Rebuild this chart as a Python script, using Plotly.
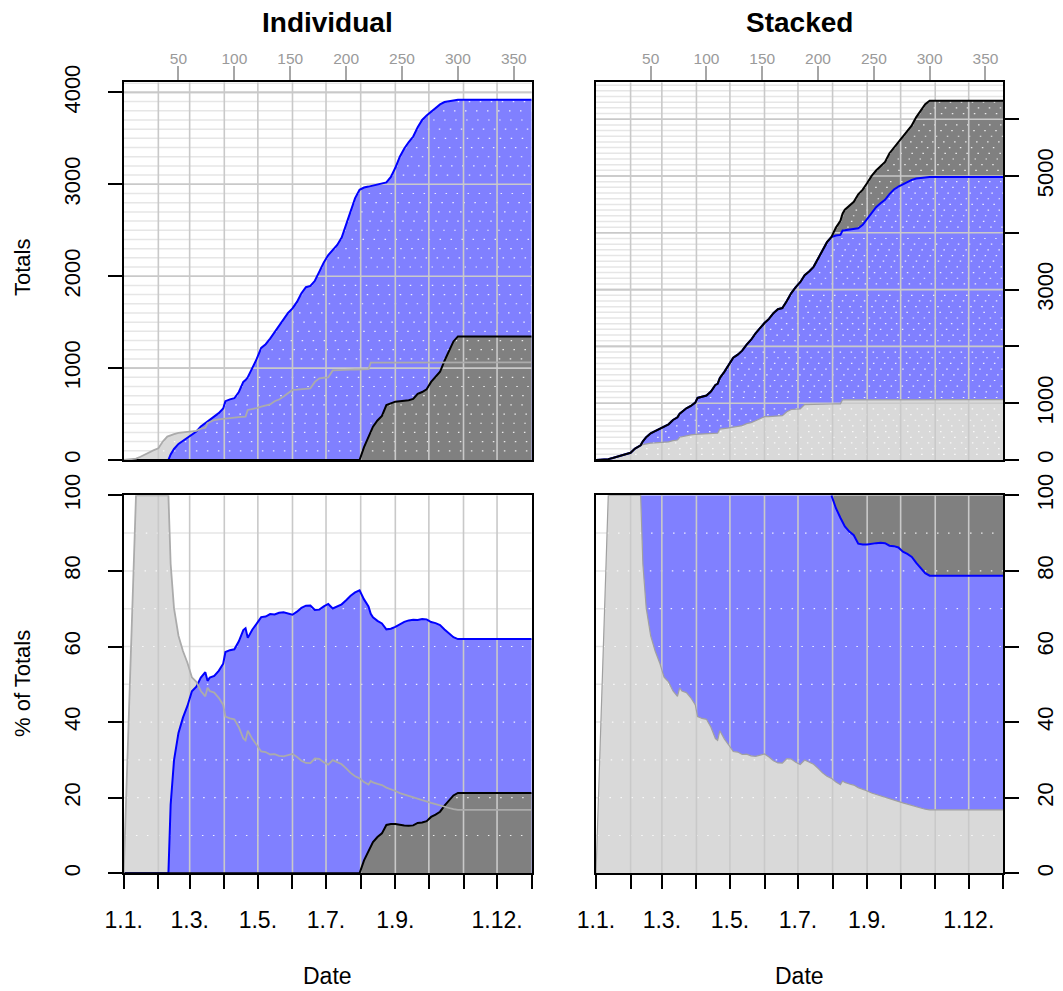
import numpy as np
import plotly.graph_objects as go

# ---- data: cumulative totals per day of year ----
day = [1, 12, 16, 20, 24, 28, 32, 36, 40, 41,
       43, 46, 50, 54, 58, 62, 66, 70, 74, 76,
       78, 82, 86, 90, 92, 96, 100, 104, 108, 110,
       112, 116, 120, 124, 128, 132, 136, 140, 144, 148,
       152, 156, 160, 164, 168, 172, 176, 180, 184, 188,
       192, 196, 200, 204, 208, 212, 216, 220, 222, 224,
       228, 232, 236, 240, 244, 248, 252, 256, 260, 264,
       268, 272, 276, 280, 284, 288, 292, 296, 300, 366]

grey_total = [0, 15, 35, 60, 90, 108, 127, 200, 255, 260,
              270, 282, 296, 300, 302, 307, 318, 340, 352, 400,
              410, 435, 442, 450, 453, 458, 462, 466, 471, 472,
              545, 552, 565, 580, 595, 605, 640, 658, 690, 725,
              762, 765, 770, 775, 780, 850, 889, 895, 900, 975,
              979, 981, 983, 984, 985, 986, 987, 988, 1060, 1060,
              1060, 1061, 1061, 1061, 1062, 1062, 1062, 1062, 1062, 1062,
              1062, 1062, 1062, 1062, 1062, 1062, 1062, 1062, 1062, 1062]

blue_total = [0, 0, 0, 0, 0, 0, 0, 0, 0, 0,
              60, 120, 175, 210, 240, 285, 310, 365, 400, 415,
              440, 475, 510, 560, 640, 660, 672, 740, 850, 870,
              900, 1000, 1100, 1220, 1260, 1320, 1390, 1460, 1540, 1600,
              1650, 1720, 1815, 1880, 1895, 1950, 2050, 2150, 2230, 2280,
              2340, 2420, 2560, 2720, 2850, 2940, 2965, 2975, 2980, 2985,
              2995, 3005, 3020, 3080, 3180, 3300, 3390, 3460, 3520, 3620,
              3700, 3750, 3790, 3840, 3870, 3895, 3905, 3912, 3920, 3920]

dark_total = [0, 0, 0, 0, 0, 0, 0, 0, 0, 0,
              0, 0, 0, 0, 0, 0, 0, 0, 0, 0,
              0, 0, 0, 0, 0, 0, 0, 0, 0, 0,
              0, 0, 0, 0, 0, 0, 0, 0, 0, 0,
              0, 0, 0, 0, 0, 0, 0, 0, 0, 0,
              0, 0, 0, 0, 0, 0, 140, 250, 300, 363,
              430, 480, 598, 620, 635, 640, 645, 650, 665, 720,
              740, 770, 850, 900, 960, 1080, 1180, 1290, 1345, 1345]

# ---- axis ticks ----
month_start = [1, 32, 60, 91, 121, 152, 182, 213, 244, 274, 305, 335, 366]
month_label = ["1.1.", "", "1.3.", "", "1.5.", "", "1.7.", "", "1.9.", "", "", "1.12.", ""]
day_ticks = [50, 100, 150, 200, 250, 300, 350]
ind_ticks = [0, 1000, 2000, 3000, 4000]
stk_ticks = [0, 1000, 2000, 3000, 4000, 5000, 6000]
stk_labels = ["0", "1000", "", "3000", "", "5000", ""]
pct_ticks = [0, 20, 40, 60, 80, 100]

# ---- derived series ----
x = np.array(day, dtype=float)
g = np.array(grey_total, dtype=float)
b = np.array(blue_total, dtype=float)
d = np.array(dark_total, dtype=float)
tot = g + b + d
safe = np.where(tot > 0, tot, 1.0)
g_pct = np.where(tot > 0, 100 * g / safe, 0.0)
b_pct = np.where(tot > 0, 100 * b / safe, 0.0)
d_pct = np.where(tot > 0, 100 * d / safe, 0.0)
gb_cum = g + b
gbd_cum = tot
gb_cum_pct = g_pct + b_pct
all_pct = np.where(tot > 0, 100.0, 0.0)

LIGHT_FILL = "#d9d9d9"
LIGHT_LINE = "#ababab"
BLUE_FILL = "#8080ff"
BLUE_LINE = "#0000ff"
DARK_FILL = "#808080"
DARK_LINE = "#000000"
GRID_MAJOR = "#c9c9c9"
GRID_MINOR = "#e6e6e6"
FONT = "Liberation Sans, Arial, Helvetica, sans-serif"

W, H = 1063, 991
X0, X1 = 1, 366
YMAX_IND, YMAX_STK = 4110, 6650

fig = go.Figure()


def seg_h(levels):
    xs, ys = [], []
    for v in levels:
        xs += [X0, X1, None]
        ys += [v, v, None]
    return xs, ys


def seg_h_under(levels, env):
    """Horizontal segments at each level, kept only where the filled envelope lies above."""
    xs, ys = [], []
    for v in levels:
        start = x[0] if env[0] >= v else None
        for i in range(1, len(x)):
            e0, e1 = env[i - 1], env[i]
            if (e0 >= v) != (e1 >= v):
                xc = x[i - 1] + (v - e0) * (x[i] - x[i - 1]) / (e1 - e0)
                if e1 >= v:
                    start = xc
                else:
                    xs += [start, xc, None]
                    ys += [v, v, None]
                    start = None
        if start is not None:
            xs += [start, x[-1], None]
            ys += [v, v, None]
    return xs, ys


def seg_v(positions, ymax):
    xs, ys = [], []
    for v in positions:
        xs += [v, v, None]
        ys += [0, ymax, None]
    return xs, ys


def add_line(ax, xs, ys, color, width, dash="solid"):
    fig.add_trace(go.Scatter(x=xs, y=ys, mode="lines", xaxis="x" + ax, yaxis="y" + ax,
                             line=dict(color=color, width=width, dash=dash),
                             hoverinfo="skip", showlegend=False, connectgaps=False))


def add_fill(ax, ys, color, mode):
    fig.add_trace(go.Scatter(x=x, y=ys, mode="lines", xaxis="x" + ax, yaxis="y" + ax,
                             fill=mode, fillcolor=color, line=dict(width=0, color=color),
                             hoverinfo="skip", showlegend=False))


def panel_grid_below(ax, minor, major):
    xs, ys = seg_h(minor)
    add_line(ax, xs, ys, GRID_MINOR, 1.5)
    if major:
        xs, ys = seg_h(major)
        add_line(ax, xs, ys, GRID_MAJOR, 1.6)


def panel_grid_above(ax, minor, major, ymax, env):
    xs, ys = seg_h_under(minor, env)
    add_line(ax, xs, ys, "rgba(255,255,255,0.85)", 1.2, dash="1.5px,9.5px")
    xs, ys = seg_v(month_start[1:-1], ymax)
    add_line(ax, xs, ys, GRID_MAJOR, 1.6)
    if major:
        xs, ys = seg_h(major)
        add_line(ax, xs, ys, GRID_MAJOR, 1.6)


# ---- top left: individual totals ----
minor_ind = [v for v in range(100, YMAX_IND, 100) if v % 1000]
major_ind = [1000, 2000, 3000, 4000]
panel_grid_below("", minor_ind, major_ind)
add_fill("", g, LIGHT_FILL, "tozeroy")
add_fill("", b, BLUE_FILL, "tozeroy")
add_fill("", d, DARK_FILL, "tozeroy")
panel_grid_above("", minor_ind, major_ind, YMAX_IND, np.maximum(np.maximum(g, b), d))
add_line("", x, b, BLUE_LINE, 2)
add_line("", x, d, DARK_LINE, 2)
add_line("", x, g, LIGHT_LINE, 1.8)

# ---- top right: stacked totals ----
minor_stk = [v for v in range(100, YMAX_STK, 100) if v % 1000]
major_stk = [1000, 2000, 3000, 4000, 5000, 6000]
panel_grid_below("2", minor_stk, major_stk)
add_fill("2", g, LIGHT_FILL, "tozeroy")
add_fill("2", gb_cum, BLUE_FILL, "tonexty")
add_fill("2", gbd_cum, DARK_FILL, "tonexty")
panel_grid_above("2", minor_stk, major_stk, YMAX_STK, gbd_cum)
add_line("2", x, g, "#a0a0a0", 1.2)
add_line("2", x, gb_cum, BLUE_LINE, 2)
add_line("2", x, gbd_cum, DARK_LINE, 2)

# ---- bottom left: individual shares ----
minor_pct = [10, 20, 30, 40, 50, 60, 70, 80, 90]
panel_grid_below("3", minor_pct, None)
add_fill("3", g_pct, LIGHT_FILL, "tozeroy")
add_fill("3", b_pct, BLUE_FILL, "tozeroy")
add_fill("3", d_pct, DARK_FILL, "tozeroy")
panel_grid_above("3", minor_pct, None, 100, np.maximum(np.maximum(g_pct, b_pct), d_pct))
add_line("3", x, b_pct, BLUE_LINE, 2)
add_line("3", x, d_pct, DARK_LINE, 2)
add_line("3", x, g_pct, LIGHT_LINE, 1.8)

# ---- bottom right: stacked shares ----
panel_grid_below("4", minor_pct, None)
add_fill("4", g_pct, LIGHT_FILL, "tozeroy")
add_fill("4", gb_cum_pct, BLUE_FILL, "tonexty")
add_fill("4", all_pct, DARK_FILL, "tonexty")
panel_grid_above("4", minor_pct, None, 100, all_pct)
add_line("4", x, g_pct, "#a0a0a0", 1.2)
first_dark = int(np.argmax(d > 0)) - 1
add_line("4", x[first_dark:], gb_cum_pct[first_dark:], BLUE_LINE, 2)

# ---- axes ----
left_dom = [123.7 / W, 531.7 / W]
right_dom = [596.0 / W, 1003.3 / W]
top_dom = [1 - 460.0 / H, 1 - 82.3 / H]
bot_dom = [1 - 873.3 / H, 1 - 495.3 / H]

box = dict(showline=True, linecolor="black", linewidth=2, mirror=True,
           showgrid=False, zeroline=False, automargin=False, fixedrange=True)


def top_xaxis(dom, anchor):
    return dict(box, domain=dom, anchor=anchor, side="top", range=[X0, X1],
                tickmode="array", tickvals=day_ticks, ticktext=[str(v) for v in day_ticks],
                ticks="outside", ticklen=14, tickwidth=1.5, tickcolor="#a6a6a6",
                tickfont=dict(family=FONT, size=15.5, color="#9a9a9a"),
                ticklabelstandoff=-4)


def bot_xaxis(dom, anchor):
    return dict(box, domain=dom, anchor=anchor, side="bottom", range=[X0, X1],
                tickmode="array", tickvals=month_start, ticktext=month_label,
                ticks="outside", ticklen=14, tickwidth=1.5, tickcolor="black",
                tickfont=dict(family=FONT, size=23, color="black"),
                ticklabelstandoff=11)


def yaxis(dom, anchor, side, rng, vals, labels, standoff):
    return dict(box, domain=dom, anchor=anchor, side=side, range=rng,
                tickmode="array", tickvals=vals, ticktext=labels,
                ticks="outside", ticklen=14, tickwidth=1.5, tickcolor="black",
                tickangle=-90, tickfont=dict(family=FONT, size=22, color="black"),
                ticklabelstandoff=standoff)


fig.update_layout(
    width=W, height=H, autosize=False, template="none",
    margin=dict(l=0, r=0, t=0, b=0, pad=0),
    paper_bgcolor="white", plot_bgcolor="white",
    showlegend=False,
    xaxis=top_xaxis(left_dom, "y"),
    yaxis=yaxis(top_dom, "x", "left", [0, YMAX_IND], ind_ticks,
                [str(v) for v in ind_ticks], 19),
    xaxis2=top_xaxis(right_dom, "y2"),
    yaxis2=yaxis(top_dom, "x2", "right", [0, YMAX_STK], stk_ticks, stk_labels, 7),
    xaxis3=bot_xaxis(left_dom, "y3"),
    yaxis3=yaxis(bot_dom, "x3", "left", [0, 100], pct_ticks,
                 [str(v) for v in pct_ticks], 19),
    xaxis4=bot_xaxis(right_dom, "y4"),
    yaxis4=yaxis(bot_dom, "x4", "right", [0, 100], pct_ticks,
                 [str(v) for v in pct_ticks], 7),
)

ann = [
    dict(text="<b>Individual</b>", x=327.7 / W, y=1 - 23.0 / H, size=28, angle=0),
    dict(text="<b>Stacked</b>", x=799.7 / W, y=1 - 23.0 / H, size=28, angle=0),
    dict(text="Totals", x=22.0 / W, y=1 - 268.0 / H, size=22, angle=-90),
    dict(text="% of Totals", x=22.0 / W, y=1 - 684.0 / H, size=22, angle=-90),
    dict(text="Date", x=327.7 / W, y=1 - 976.0 / H, size=23, angle=0),
    dict(text="Date", x=799.7 / W, y=1 - 976.0 / H, size=23, angle=0),
]
for a in ann:
    fig.add_annotation(text=a["text"], x=a["x"], y=a["y"], xref="paper", yref="paper",
                       xanchor="center", yanchor="middle", showarrow=False,
                       textangle=a["angle"], font=dict(family=FONT, size=a["size"], color="black"))

fig.write_html("out.html")
